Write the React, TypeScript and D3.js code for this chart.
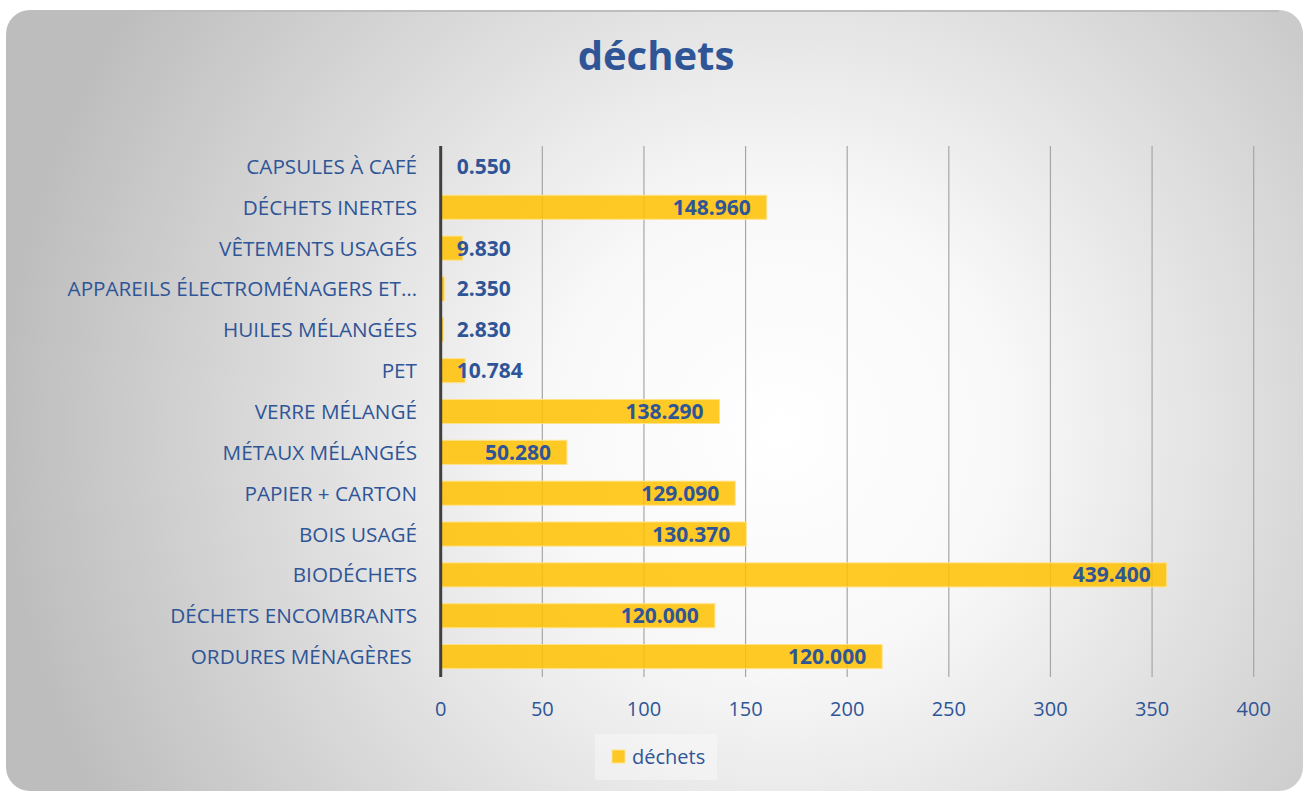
import React from "react";
import * as d3 from "d3";

const categories = [
  "CAPSULES À CAFÉ",
  "DÉCHETS INERTES",
  "VÊTEMENTS USAGÉS",
  "APPAREILS ÉLECTROMÉNAGERS ET…",
  "HUILES MÉLANGÉES",
  "PET",
  "VERRE MÉLANGÉ",
  "MÉTAUX MÉLANGÉS",
  "PAPIER + CARTON",
  "BOIS USAGÉ",
  "BIODÉCHETS",
  "DÉCHETS ENCOMBRANTS",
  "ORDURES MÉNAGÈRES ",
];

// bar lengths as drawn against the axis
const barValues = [0.3, 160.4, 10.8, 1.8, 1.3, 12.0, 137.2, 62.1, 144.9, 150.3, 357.2, 134.9, 217.2];

// data labels as printed
const dataLabels = [
  "0.550", "148.960", "9.830", "2.350", "2.830", "10.784", "138.290",
  "50.280", "129.090", "130.370", "439.400", "120.000", "120.000",
];

const xTicks = [0, 50, 100, 150, 200, 250, 300, 350, 400];
const title = "déchets";
const seriesName = "déchets";

const W = 1305;
const H = 791;
const FONT = "'Open Sans', 'Noto Sans', sans-serif";
const BLUE = "#2F5597";
const BAR = "#FFC000";

export default function App() {
  const x = d3.scaleLinear().domain([0, 400]).range([440.7, 1253.7]);
  const y = d3
    .scaleBand<string>()
    .domain(categories)
    .range([146, 677])
    .paddingInner(0.41)
    .paddingOuter(0.205);

  const labelWidth = (s: string) => s.length * 11.5;

  return (
    <svg
      width={W}
      height={H}
      style={{ position: "absolute", left: 0, top: 0, fontFamily: FONT }}
    >
      <defs>
        <radialGradient id="bg" gradientUnits="userSpaceOnUse" cx={780} cy={430} r={780}>
          <stop offset="0" stopColor="#ffffff" />
          <stop offset="0.3" stopColor="#f8f8f8" />
          <stop offset="1" stopColor="#bdbdbd" />
        </radialGradient>
      </defs>
      <rect x={6} y={10} width={1297} height={781} rx={24} ry={24} fill="url(#bg)" />
      <path d="M 30 11 L 1279 11" stroke="#bdbdbd" strokeWidth={2} />

      <text
        x={656}
        y={70}
        textAnchor="middle"
        fontSize={40}
        fontWeight={700}
        fill={BLUE}
      >
        {title}
      </text>

      {/* gridlines */}
      {xTicks.slice(1).map((t) => (
        <line
          key={"g" + t}
          x1={x(t)}
          x2={x(t)}
          y1={146}
          y2={677}
          stroke="#a6a6a6"
          strokeWidth={1.2}
        />
      ))}

      {/* bars */}
      {categories.map((c, i) => (
        <rect
          key={"b" + c}
          x={x(0)}
          y={y(c)!}
          width={x(barValues[i]) - x(0)}
          height={y.bandwidth()}
          fill={BAR}
          fillOpacity={0.85}
          stroke="#FFE38A"
          strokeWidth={1}
        />
      ))}

      {/* axis line */}
      <line x1={x(0)} x2={x(0)} y1={146} y2={677} stroke="#404040" strokeWidth={3} />

      {/* category labels */}
      {categories.map((c) => (
        <text
          key={"c" + c}
          x={417}
          y={y(c)! + y.bandwidth() / 2 + 7.5}
          textAnchor="end"
          fontSize={20.7}
          fill={BLUE}
          style={{ whiteSpace: "pre" }}
        >
          {c}
        </text>
      ))}

      {/* data labels */}
      {categories.map((c, i) => {
        const end = x(barValues[i]) - 16;
        const w = labelWidth(dataLabels[i]);
        const fits = end - w >= x(0) + 16;
        return (
          <text
            key={"d" + c}
            x={fits ? end : x(0) + 16}
            y={y(c)! + y.bandwidth() / 2 + 7.5}
            textAnchor={fits ? "end" : "start"}
            fontSize={21}
            fontWeight={700}
            fill={BLUE}
          >
            {dataLabels[i]}
          </text>
        );
      })}

      {/* x tick labels */}
      {xTicks.map((t) => (
        <text
          key={"t" + t}
          x={x(t)}
          y={716}
          textAnchor="middle"
          fontSize={20}
          fill={BLUE}
        >
          {t}
        </text>
      ))}

      {/* legend */}
      <rect x={595} y={734} width={122} height={46} fill="#ffffff" fillOpacity={0.35} />
      <rect x={612} y={750} width={13} height={13} fill={BAR} fillOpacity={0.85} stroke="#FFE38A" />
      <text x={632} y={764} fontSize={20} fill={BLUE}>
        {seriesName}
      </text>
    </svg>
  );
}
